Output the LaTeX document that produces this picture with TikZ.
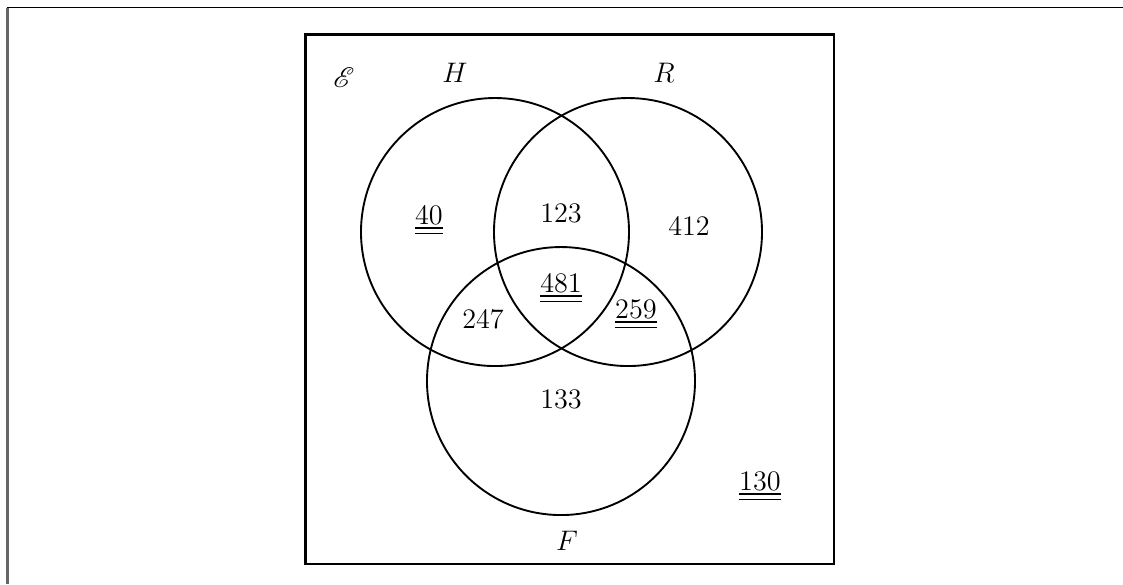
\documentclass[tikz,border=0pt]{standalone}
\usepackage{amsmath}
\usepackage{mathrsfs}
\usepackage{tikz}
\usetikzlibrary{positioning}

\begin{document}
\begin{tikzpicture}[
    setcircle/.style={draw, circle, line width=0.8pt, minimum size=4cm, inner sep=0pt},
    count/.style={anchor=base, font=\fontsize{12.6}{15}\selectfont},
  ]
  \useasboundingbox (-7.388,-5.254) rectangle (9.373,3.463);
  % page frame (left and top edges only)
  \coordinate (frametl) at (-7.276,3.351);
  \coordinate (framebl) at (-7.276,-5.254);
  \coordinate (frametr) at (9.373,3.351);
  \draw[black!60, line width=0.9pt] (framebl) -- (frametl);
  \draw[line width=0.7pt] (frametl) -- (frametr);

  % universal set
  \draw[line width=1.2pt] (-2.828,-4.955) rectangle (5.06,2.948);
  \node[count] (univ) at (-2.254,2.164) {$\mathscr{E}$};

  % the three sets
  \node[setcircle] (H) at (0,0) {};
  \node[setcircle] (R) at (1.985,0) {};
  \node[setcircle] (F) at (0.985,-2.224) {};
  \node[count] (Hlbl) at (-0.597,2.239) {$H$};
  \node[count] (Rlbl) at (2.522,2.239) {$R$};
  \node[count] (Flbl) at (1.075,-4.746) {$F$};

  % region counts
  \node[count] (honly)  at (-0.985,0.119)  {$\underline{\underline{40}}$};
  \node[count] (hr)     at (0.985,0.149)   {$123$};
  \node[count] (ronly)  at (2.896,-0.045)  {$412$};
  \node[count] (hrf)    at (0.985,-0.896)  {$\underline{\underline{481}}$};
  \node[count] (hf)     at (-0.179,-1.433) {$247$};
  \node[count] (rf)     at (2.104,-1.284)  {$\underline{\underline{259}}$};
  \node[count] (fonly)  at (0.985,-2.627)  {$133$};
  \node[count] (none)   at (3.955,-3.851)  {$\underline{\underline{130}}$};
\end{tikzpicture}
\end{document}
